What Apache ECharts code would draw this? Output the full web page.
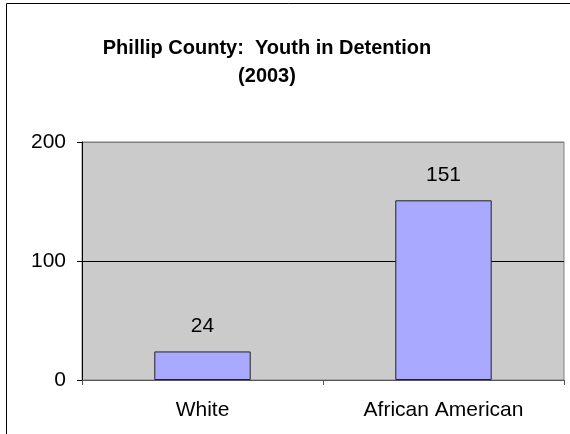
<!DOCTYPE html>
<html><head><meta charset="utf-8">
<script src="https://cdn.jsdelivr.net/npm/echarts@6/dist/echarts.min.js"></script>
<style>html,body{margin:0;padding:0;background:#fff}#c{width:570px;height:434px}</style>
</head><body><div id="c"></div>
<script>
var categories = ['White', 'African American'];
var values = [24, 151];
var yTicks = [0, 100, 200];

var chart = echarts.init(document.getElementById('c'), null, {renderer: 'canvas'});
var font = 'Liberation Sans, Arial, sans-serif';
chart.setOption({
  animation: false,
  title: {
    text: 'Phillip County:  Youth in Detention\n(2003)',
    left: 262, top: 29, textAlign: 'center',
    textStyle: {fontFamily: font, fontSize: 20, fontWeight: 'bold', color: '#000', lineHeight: 28}
  },
  graphic: [{
    type: 'rect', z: 100, silent: true,
    shape: {x: 6.5, y: 3.5, width: 700, height: 600},
    style: {fill: 'none', stroke: '#000', lineWidth: 1}
  }],
  grid: {left: 82, top: 142, right: 6, bottom: 54, show: true, backgroundColor: '#cbcbcb', borderColor: '#808080', borderWidth: 1},
  xAxis: {
    type: 'category', data: categories,
    axisLine: {lineStyle: {color: '#555', width: 1}},
    axisTick: {show: true, length: 5, lineStyle: {color: '#555'}},
    axisLabel: {fontFamily: font, fontSize: 21, lineHeight: 21, color: '#000', margin: 20}
  },
  yAxis: {
    type: 'value', min: yTicks[0], max: yTicks[yTicks.length - 1], interval: 100,
    axisLine: {show: true, lineStyle: {color: '#000', width: 1}},
    axisTick: {show: true, length: 5, lineStyle: {color: '#000'}},
    axisLabel: {fontFamily: font, fontSize: 21, color: '#000', margin: 16},
    splitLine: {show: true, lineStyle: {color: ['#000', '#000', '#808080'], width: 1}}
  },
  series: [{
    type: 'bar', data: values, barWidth: '40%',
    itemStyle: {color: '#a9a9ff', borderColor: '#222', borderWidth: 1},
    label: {show: true, position: 'top', distance: 15, fontFamily: font, fontSize: 21, lineHeight: 21, color: '#000'}
  }]
});
</script></body></html>
